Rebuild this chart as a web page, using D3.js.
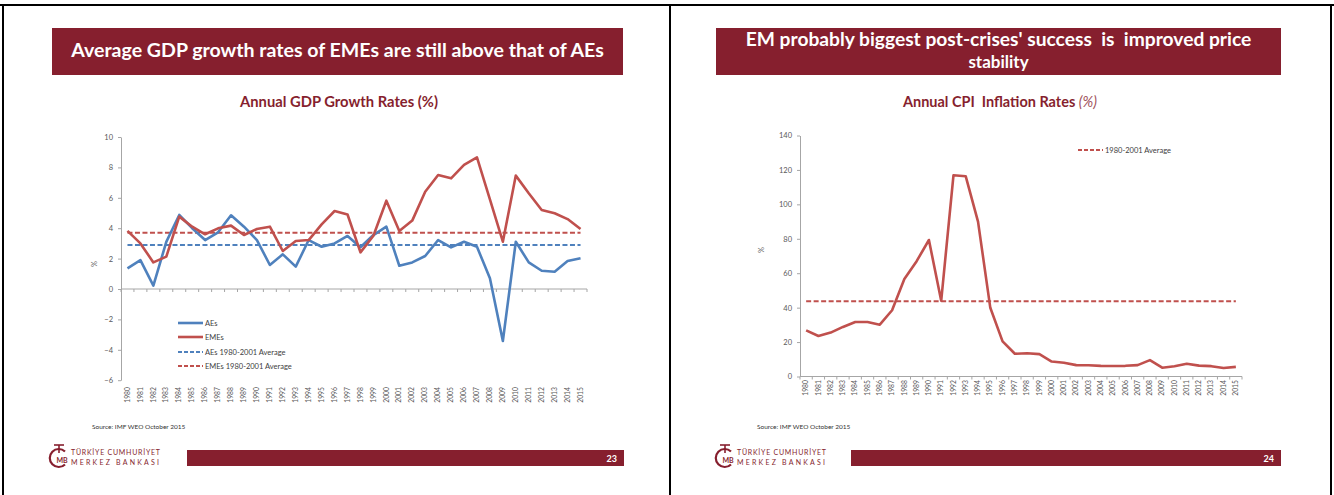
<!DOCTYPE html>
<html>
<head>
<meta charset="utf-8">
<script src="https://cdn.jsdelivr.net/npm/d3@7"></script>
<style>
  body { margin: 0; background: #fff; }
  svg { display: block; font-family: Lato, "Open Sans", sans-serif; }
</style>
</head>
<body>
<svg id="page" width="1334" height="495"></svg>
<script>
// data
let years = d3.range(1980, 2016).map(String);
let aesGrowth = [1.36, 1.9, 0.22, 3.1, 4.87, 4.0, 3.22, 3.73, 4.85, 4.1, 3.22, 1.58, 2.28, 1.47, 3.22, 2.78, 3.0, 3.49,
                 2.75, 3.55, 4.1, 1.53, 1.75, 2.17, 3.22, 2.74, 3.11, 2.78, 0.7, -3.42, 3.11, 1.75, 1.2, 1.14, 1.84, 2.02];
let emesGrowth = [3.82, 3.0, 1.75, 2.13, 4.76, 4.1, 3.6, 3.99, 4.17, 3.55, 3.95, 4.1, 2.5, 3.16, 3.22, 4.25, 5.13, 4.9,
                  2.41, 3.5, 5.81, 3.82, 4.5, 6.4, 7.5, 7.28, 8.16, 8.66, 5.9, 3.11, 7.46, 6.3, 5.2, 4.98, 4.6, 3.95];
let aesAvg = 2.9;
let emesAvg = 3.7;
let gdpTicks = [-6, -4, -2, 0, 2, 4, 6, 8, 10];

let cpiInflation = [26.8, 23.5, 25.5, 28.8, 31.7, 31.7, 30.1, 38.5, 56.6, 67, 79.3, 44, 116.9, 116.3, 90, 39.9, 20.4, 13.2,
                    13.5, 13, 8.7, 8, 6.6, 6.5, 6.2, 6.1, 6.2, 6.6, 9.5, 5.1, 6, 7.4, 6.3, 6, 4.9, 5.6];
let cpiAvg = 43.7;
let cpiTicks = [0, 20, 40, 60, 80, 100, 120, 140];

let maroon = "#861f2e";
let blue = "#4f81bd";
let red = "#c0504d";
let axisGray = "#a6a6a6";
let labelGray = "#595959";

let svg = d3.select("#page");

// table borders
svg.append("line").attr("x1", 0).attr("x2", 1334).attr("y1", 5).attr("y2", 5).attr("stroke", "#000").attr("stroke-width", 2);
[3, 670, 1331].forEach(x => {
    svg.append("line").attr("x1", x).attr("x2", x).attr("y1", 4).attr("y2", 495).attr("stroke", "#000").attr("stroke-width", 2);
});

function fitText(text, width) {
    let size = parseFloat(text.attr("font-size"));
    let w = text.node().getComputedTextLength();
    text.attr("font-size", (size * width / w).toFixed(2));
}

function titleBox(x0, x1, lines, widths) {
    svg.append("rect").attr("x", x0).attr("y", 28).attr("width", x1 - x0).attr("height", 47).attr("fill", maroon);
    lines.forEach((line, i) => {
        let t = svg.append("text")
            .attr("x", (x0 + x1) / 2)
            .attr("y", lines.length == 1 ? 57 : 46 + i * 22)
            .attr("text-anchor", "middle")
            .attr("fill", "#fff")
            .attr("font-weight", "bold")
            .attr("font-size", 17)
            .attr("xml:space", "preserve")
            .text(line);
        if (widths[i]) fitText(t, widths[i]);
    });
}

function footer(dx, pageNo, barX0, barX1) {
    let g = svg.append("g").attr("transform", `translate(${dx},0)`);
    // bank emblem, drawn roughly: open ring, T on top, MB inside
    g.append("path")
        .attr("d", "M65,451.5 A9,9 0 1,0 65,464.5")
        .attr("fill", "none").attr("stroke", maroon).attr("stroke-width", 2.2);
    g.append("line").attr("x1", 54).attr("x2", 64).attr("y1", 445).attr("y2", 445).attr("stroke", maroon).attr("stroke-width", 1.6);
    g.append("line").attr("x1", 59).attr("x2", 59).attr("y1", 445).attr("y2", 453).attr("stroke", maroon).attr("stroke-width", 1.6);
    g.append("text").attr("x", 56.5).attr("y", 463).attr("font-size", 7).attr("font-weight", "bold")
        .attr("fill", maroon).text("MB");
    g.append("text").attr("x", 71).attr("y", 455).attr("font-size", 7).attr("fill", maroon)
        .attr("textLength", 89).attr("lengthAdjust", "spacing").text("TÜRKİYE CUMHURİYET");
    g.append("text").attr("x", 71).attr("y", 464.5).attr("font-size", 7).attr("fill", maroon)
        .attr("textLength", 88).attr("lengthAdjust", "spacing").text("MERKEZ BANKASI");
    svg.append("rect").attr("x", barX0).attr("y", 450).attr("width", barX1 - barX0).attr("height", 16).attr("fill", maroon);
    svg.append("text").attr("x", barX1 - 7).attr("y", 462).attr("text-anchor", "end")
        .attr("font-size", 9).attr("font-weight", "bold").attr("fill", "#fff").text(pageNo);
}

function chartFrame(x, y, labelTop, pctX, pctY) {
    let yAxis = svg.append("g").attr("transform", `translate(${x.range()[0]},0)`)
        .call(d3.axisLeft(y).tickValues(y.ticksUsed).tickSize(3).tickPadding(5).tickSizeOuter(0));
    yAxis.select(".domain").attr("stroke", axisGray);
    yAxis.selectAll(".tick line").attr("stroke", axisGray);
    yAxis.selectAll(".tick text").attr("font-size", 7.5).attr("fill", labelGray).attr("font-family", "Lato, sans-serif");

    // category axis crossing at zero, tick marks on band edges
    let y0 = y(0);
    svg.append("line").attr("x1", x.range()[0]).attr("x2", x.range()[1])
        .attr("y1", y0).attr("y2", y0).attr("stroke", axisGray);
    svg.selectAll(null).data(years.map(d => x(d)).concat([x.range()[1]])).enter().append("line")
        .attr("x1", d => d).attr("x2", d => d)
        .attr("y1", y0).attr("y2", y0 + 3)
        .attr("stroke", axisGray);

    let xLabels = svg.append("g").attr("transform", `translate(0,${labelTop})`)
        .call(d3.axisBottom(x).tickSize(0).tickPadding(0));
    xLabels.select(".domain").remove();
    xLabels.selectAll(".tick text")
        .attr("transform", "rotate(-90)")
        .attr("text-anchor", "end")
        .attr("x", -1).attr("y", 0).attr("dy", "0.32em")
        .attr("font-size", 6.8).attr("fill", labelGray).attr("font-family", "Lato, sans-serif");

    svg.append("text").attr("transform", `translate(${pctX},${pctY}) rotate(-90)`)
        .attr("text-anchor", "middle").attr("font-size", 7.5).attr("fill", labelGray).text("%");
}

function drawLine(x, y, values, color, dash) {
    let line = d3.line().x((d, i) => x(years[i]) + x.bandwidth() / 2).y(d => y(d));
    svg.append("path").datum(values)
        .attr("d", line)
        .attr("fill", "none")
        .attr("stroke", color)
        .attr("stroke-width", dash ? 2 : 2.6)
        .attr("stroke-dasharray", dash ? "5,2.5" : null)
        .attr("stroke-linejoin", "round");
}

function legendRow(x0, yPos, color, dash, label) {
    svg.append("line").attr("x1", x0).attr("x2", x0 + 25).attr("y1", yPos).attr("y2", yPos)
        .attr("stroke", color).attr("stroke-width", dash ? 2 : 2.6).attr("stroke-dasharray", dash ? "4,2" : null);
    svg.append("text").attr("x", x0 + 27).attr("y", yPos).attr("dy", "0.35em")
        .attr("font-size", 7.5).attr("fill", "#404040").text(label);
}

// ---- left slide: GDP growth
titleBox(52, 623, ["Average GDP growth rates of EMEs are still above that of AEs"], [533]);
let sub1 = svg.append("text").attr("x", 339).attr("y", 107).attr("text-anchor", "middle")
    .attr("font-size", 12).attr("font-weight", "bold").attr("fill", maroon).text("Annual GDP Growth Rates (%)");
fitText(sub1, 198);

let xGdp = d3.scaleBand().domain(years).range([121, 587]);
let yGdp = d3.scaleLinear().domain([-6, 10]).range([380.2, 137]);
yGdp.ticksUsed = gdpTicks;
chartFrame(xGdp, yGdp, 386, 97, 264);
drawLine(xGdp, yGdp, years.map(() => emesAvg), red, true);
drawLine(xGdp, yGdp, years.map(() => aesAvg), blue, true);
drawLine(xGdp, yGdp, aesGrowth, blue, false);
drawLine(xGdp, yGdp, emesGrowth, red, false);
legendRow(178, 323, blue, false, "AEs");
legendRow(178, 337, red, false, "EMEs");
legendRow(178, 352, blue, true, "AEs 1980-2001 Average");
legendRow(178, 366, red, true, "EMEs 1980-2001 Average");
svg.append("text").attr("x", 92).attr("y", 429).attr("font-size", 6.5).attr("fill", "#333")
    .text("Source: IMF WEO October 2015");
footer(0, "23", 187, 624);

// ---- right slide: CPI inflation
titleBox(716, 1281, ["EM probably biggest post-crises' success  is  improved price", "stability"], [506, null]);
let sub2 = svg.append("text").attr("x", 1000).attr("y", 107).attr("text-anchor", "middle")
    .attr("font-size", 12).attr("font-weight", "bold").attr("fill", maroon);
sub2.append("tspan").text("Annual CPI  Inflation Rates ");
sub2.append("tspan").attr("font-style", "italic").attr("font-weight", "normal").attr("fill", "#a0525c").text("(%)");
sub2.attr("xml:space", "preserve");
fitText(sub2, 194);

let xCpi = d3.scaleBand().domain(years).range([800, 1242]);
let yCpi = d3.scaleLinear().domain([0, 140]).range([376.5, 135.5]);
yCpi.ticksUsed = cpiTicks;
chartFrame(xCpi, yCpi, 379, 764, 250);
drawLine(xCpi, yCpi, years.map(() => cpiAvg), red, true);
drawLine(xCpi, yCpi, cpiInflation, red, false);
legendRow(1078, 150, red, true, "1980-2001 Average");
svg.append("text").attr("x", 757).attr("y", 429).attr("font-size", 6.5).attr("fill", "#333")
    .text("Source: IMF WEO October 2015");
footer(666, "24", 851, 1281);
</script>
</body>
</html>
